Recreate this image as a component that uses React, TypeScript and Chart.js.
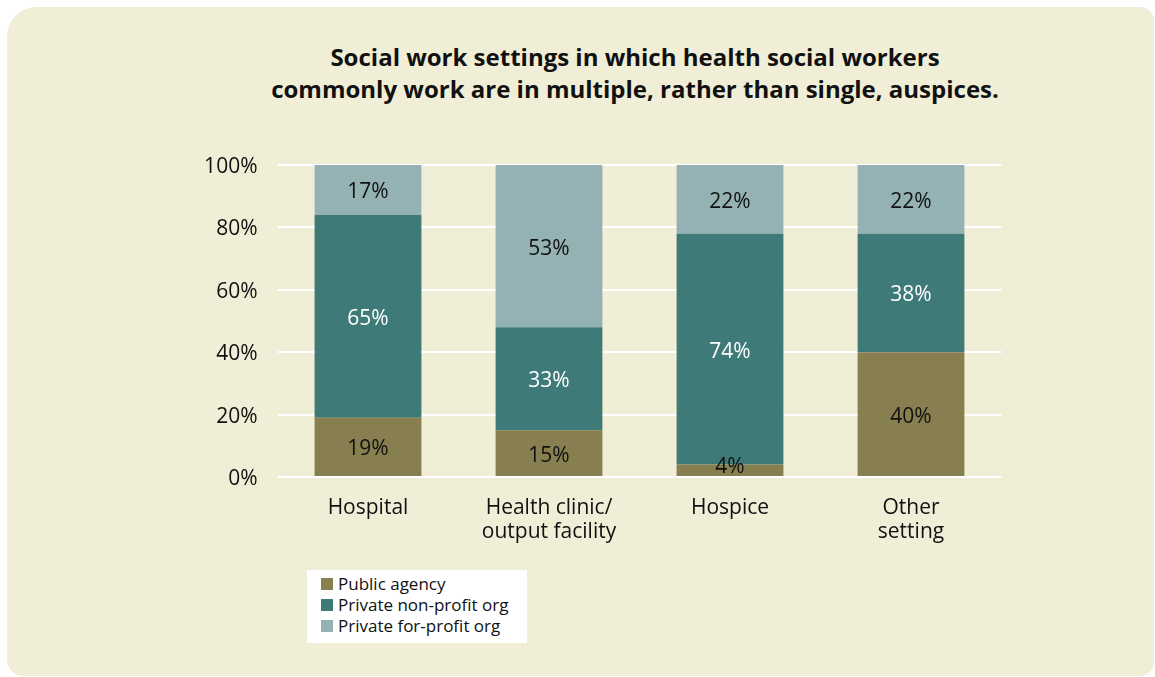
import React, { useEffect, useRef } from "react";
import { Chart, registerables } from "chart.js";

Chart.register(...registerables);

const titleLines = [
  "Social work settings in which health social workers",
  "commonly work are in multiple, rather than single, auspices.",
];
const categories: (string | string[])[] = [
  "Hospital",
  ["Health clinic/", "output facility"],
  "Hospice",
  ["Other", "setting"],
];
const publicAgency = [19, 15, 4, 40];
const privateNonProfit = [65, 33, 74, 38];
const privateForProfit = [17, 53, 22, 22];
const seriesNames = ["Public agency", "Private non-profit org", "Private for-profit org"];
const seriesColors = ["#877f50", "#3e7a78", "#94b2b3"];
const labelColors = ["#111111", "#ffffff", "#111111"];
const yTicks = [0, 20, 40, 60, 80, 100];

const FONT = "'Open Sans', 'Noto Sans', sans-serif";

const dataLabelPlugin = {
  id: "segLabels",
  afterDatasetsDraw(chart: any) {
    const ctx = chart.ctx;
    ctx.save();
    ctx.font = `21px ${FONT}`;
    ctx.textAlign = "center";
    ctx.textBaseline = "middle";
    chart.data.datasets.forEach((ds: any, di: number) => {
      const meta = chart.getDatasetMeta(di);
      meta.data.forEach((bar: any, i: number) => {
        const top = Math.max(bar.y, chart.chartArea.top);
        const bottom = bar.base;
        let cy = (top + bottom) / 2 + 2.5;
        if (bottom - top < 22) cy = bottom - 9;
        ctx.fillStyle = labelColors[di];
        ctx.fillText(`${ds.data[i]}%`, bar.x, cy);
      });
    });
    ctx.restore();
  },
};

export default function App() {
  const ref = useRef<HTMLCanvasElement | null>(null);
  useEffect(() => {
    if (!ref.current) return;
    const values = [publicAgency, privateNonProfit, privateForProfit];
    const chart = new Chart(ref.current, {
      type: "bar",
      data: {
        labels: categories,
        datasets: values.map((d, k) => ({
          label: seriesNames[k],
          data: d,
          backgroundColor: seriesColors[k],
          borderWidth: 0,
          categoryPercentage: 1,
          barPercentage: 0.59,
          clip: 0,
        })),
      },
      options: {
        responsive: false,
        maintainAspectRatio: false,
        devicePixelRatio: 1,
        animation: false,
        events: [],
        layout: { padding: { left: 0, right: 153.5, top: 165, bottom: 0 } },
        plugins: {
          legend: { display: false },
          title: { display: false },
          tooltip: { enabled: false },
        },
        scales: {
          x: {
            stacked: true,
            grid: { display: false, drawTicks: false },
            border: { display: false },
            ticks: {
              color: "#111111",
              font: { family: FONT, size: 21, lineHeight: 1.15 },
              padding: 19,
              maxRotation: 0,
              autoSkip: false,
            },
            afterFit: (s: any) => {
              s.height = 200;
            },
          },
          y: {
            stacked: true,
            min: 0,
            max: 100,
            afterBuildTicks: (s: any) => {
              s.ticks = yTicks.map((v) => ({ value: v }));
            },
            grid: { color: "#ffffff", lineWidth: 2, drawTicks: false },
            border: { display: false },
            ticks: {
              color: "#111111",
              font: { family: FONT, size: 21 },
              padding: 20,
              labelOffset: 2,
              callback: (v: any) => `${v}%`,
            },
            afterFit: (s: any) => {
              s.width = 277.5;
            },
          },
        },
      },
      plugins: [dataLabelPlugin],
    });
    return () => chart.destroy();
  }, []);

  return (
    <div style={{ position: "absolute", left: 0, top: 0, width: 1155, height: 677, overflow: "hidden" }}>
      <div
        style={{
          position: "absolute",
          left: 7,
          top: 7,
          width: 1147,
          height: 669,
          background: "#f0eed6",
          borderRadius: "30px 14px 14px 16px",
        }}
      />
      <div
        style={{
          position: "absolute",
          left: 185,
          width: 900,
          top: 41,
          textAlign: "center",
          fontFamily: FONT,
          fontWeight: 700,
          fontSize: 24,
          lineHeight: "32px",
          color: "#111111",
        }}
      >
        {titleLines.map((t, i) => (
          <div key={i}>{t}</div>
        ))}
      </div>
      <canvas
        ref={ref}
        width={1155}
        height={677}
        style={{ position: "absolute", left: 0, top: 0, width: 1155, height: 677 }}
      />
      <div
        style={{
          position: "absolute",
          left: 307,
          top: 570,
          width: 220,
          height: 73,
          background: "#ffffff",
          fontFamily: FONT,
          fontSize: 17,
          color: "#111111",
          boxSizing: "border-box",
          paddingLeft: 14,
          paddingTop: 3,
        }}
      >
        {seriesNames.map((n, k) => (
          <div key={k} style={{ display: "flex", alignItems: "center", height: 21, whiteSpace: "nowrap" }}>
            <span
              style={{
                display: "inline-block",
                width: 12,
                height: 12,
                background: seriesColors[k],
                marginRight: 5,
                flexShrink: 0,
              }}
            />
            <span>{n}</span>
          </div>
        ))}
      </div>
    </div>
  );
}
